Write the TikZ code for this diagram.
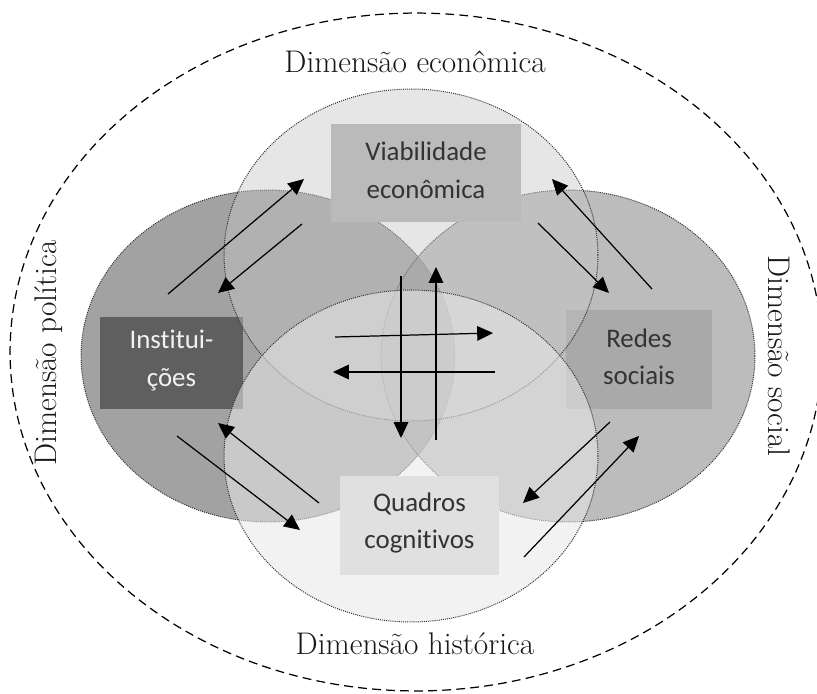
\documentclass[tikz,border=0pt]{standalone}
\usepackage{fontspec}
\newfontfamily\caixafont[Ligatures=NoCommon]{Carlito}
\usetikzlibrary{arrows.meta}

\definecolor{politica}{gray}{0.635}
\definecolor{social}{gray}{0.561}
\definecolor{economica}{gray}{0.776}
\definecolor{historica}{gray}{0.91}
\definecolor{instituicoes}{gray}{0.373}
\definecolor{redes}{gray}{0.663}
\definecolor{viabilidade}{gray}{0.70}
\definecolor{quadros}{gray}{0.84}
\definecolor{contorno}{gray}{0.2}

\begin{document}
\begin{tikzpicture}[x=0.02cm, y=-0.02cm,
  circulo/.style={draw=contorno, line width=0.55pt, dash pattern=on 0.6pt off 0.6pt},
  caixa/.style={inner sep=0pt},
  texto/.style={align=center, font=\caixafont\fontsize{15.3}{21.5}\selectfont, text=black!80},
  dimensao/.style={anchor=base, font=\fontsize{17.8}{20}\selectfont, text=black!90},
  seta/.style={-{Triangle[length=9pt,width=8.3pt]}, line width=0.7pt}]

\clip (0,0) rectangle (817,693);

% Moldura
\draw[dash pattern=on 5pt off 3pt, line width=0.7pt] (416,352) ellipse [x radius=8.12cm, y radius=6.78cm];

% Centros dos circulos
\coordinate (CE) at (411,255);
\coordinate (CH) at (411,456);
\coordinate (CP) at (268,356);
\coordinate (CS) at (568,356);

% Circulos politico e social
\draw[circulo, fill=politica] (CP) ellipse [x radius=3.74cm, y radius=3.32cm];
\draw[circulo, fill=social, fill opacity=0.6] (CS) ellipse [x radius=3.74cm, y radius=3.32cm];

% Caixas
\node[caixa, fill=viabilidade, minimum width=3.8cm, minimum height=1.96cm] (viab) at (426,173) {};
\node[caixa, fill=instituicoes, minimum width=2.86cm, minimum height=1.84cm] (inst) at (171.5,363) {};
\node[caixa, fill=redes, minimum width=2.92cm, minimum height=1.98cm] (redes) at (639,359.5) {};
\node[caixa, fill=quadros, minimum width=3.18cm, minimum height=1.98cm] (quadros) at (419.5,525.5) {};

% Circulos economico e historico
\draw[circulo, fill=economica, fill opacity=0.43] (CE) ellipse [x radius=3.74cm, y radius=3.32cm];
\draw[circulo, fill=historica, fill opacity=0.56] (CH) ellipse [x radius=3.74cm, y radius=3.32cm];

% Textos das caixas
\node[texto] (tviab) at ([yshift=1.5pt]viab.center) {Viabilidade\\econômica};
\node[texto, text=white!95!black] (tinst) at ([yshift=1.5pt]inst.center) {Institui-\\ções};
\node[texto] (tredes) at ([yshift=1.5pt]redes.center) {Redes\\sociais};
\node[texto] (tquadros) at ([yshift=1.5pt]quadros.center) {Quadros\\cognitivos};

% Dimensoes
\node[dimensao] (econ) at (415,72) {Dimensão econômica};
\node[dimensao] (hist) at (415,654) {Dimensão histórica};
\node[dimensao, rotate=90] (pol) at (56,353) {Dimensão política};
\node[dimensao, rotate=-90] (soc) at (768,356) {Dimensão social};

% Setas politica - economica
\coordinate (pe1) at (168,294);
\coordinate (pe2) at (304,179);
\coordinate (ep1) at (302,224);
\coordinate (ep2) at (218,293);
\draw[seta] (pe1) -- (pe2);
\draw[seta] (ep1) -- (ep2);

% Setas economica - social
\coordinate (se1) at (652,289);
\coordinate (se2) at (552,179);
\coordinate (es1) at (538,223);
\coordinate (es2) at (609,293);
\draw[seta] (se1) -- (se2);
\draw[seta] (es1) -- (es2);

% Setas no centro
\coordinate (d1) at (335,337);
\coordinate (d2) at (493,333);
\coordinate (e1) at (495,372);
\coordinate (e2) at (333,372);
\coordinate (b1) at (401,276);
\coordinate (b2) at (401,438);
\coordinate (c1) at (436,440);
\coordinate (c2) at (436,267);
\draw[seta] (d1) -- (d2);
\draw[seta] (e1) -- (e2);
\draw[seta] (b1) -- (b2);
\draw[seta] (c1) -- (c2);

% Setas politica - historica
\coordinate (ph1) at (177,436);
\coordinate (ph2) at (300,530);
\coordinate (hp1) at (319,503);
\coordinate (hp2) at (218,423);
\draw[seta] (ph1) -- (ph2);
\draw[seta] (hp1) -- (hp2);

% Setas social - historica
\coordinate (sh1) at (610,422);
\coordinate (sh2) at (523,503);
\coordinate (hs1) at (524,557);
\coordinate (hs2) at (639,436);
\draw[seta] (sh1) -- (sh2);
\draw[seta] (hs1) -- (hs2);

\end{tikzpicture}
\end{document}
